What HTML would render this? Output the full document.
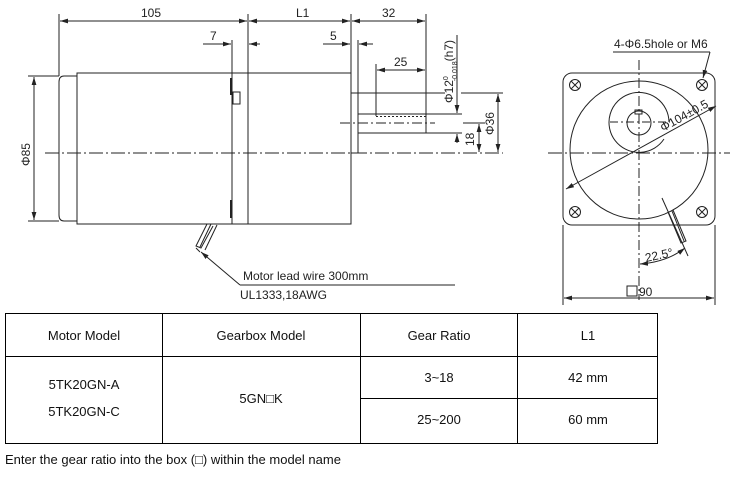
<!DOCTYPE html>
<html><head><meta charset="utf-8"><style>
body{margin:0;background:#fff;width:732px;height:483px;overflow:hidden;font-family:"Liberation Sans",Arial,sans-serif}
svg{position:absolute;left:0;top:0}
</style></head><body>
<svg width="732" height="483" viewBox="0 0 732 483" xmlns="http://www.w3.org/2000/svg">
<defs>
<marker id="a" viewBox="0 0 10 6" refX="10" refY="3" markerWidth="8" markerHeight="5" orient="auto-start-reverse"><path d="M0,0L10,3L0,6z" fill="#222"/></marker>
</defs>
<g stroke="#222" stroke-width="1" fill="none">
<!-- extension lines -->
<line x1="59" y1="14" x2="59" y2="76"/>
<line x1="248" y1="14" x2="248" y2="73"/>
<line x1="351" y1="14" x2="351" y2="73"/>
<line x1="426" y1="14" x2="426" y2="114"/>
<line x1="232" y1="40" x2="232" y2="73"/>
<line x1="358" y1="40" x2="358" y2="93"/>
<line x1="376" y1="64" x2="376" y2="116"/>
<!-- top dims -->
<line x1="60" y1="21" x2="247" y2="21" marker-start="url(#a)" marker-end="url(#a)"/>
<line x1="249" y1="21" x2="350" y2="21" marker-start="url(#a)" marker-end="url(#a)"/>
<line x1="352" y1="21" x2="425" y2="21" marker-start="url(#a)" marker-end="url(#a)"/>
<line x1="203" y1="44" x2="231" y2="44" marker-end="url(#a)"/>
<line x1="260" y1="44" x2="249" y2="44" marker-end="url(#a)"/>
<line x1="323" y1="44" x2="350" y2="44" marker-end="url(#a)"/>
<line x1="373" y1="44" x2="359" y2="44" marker-end="url(#a)"/>
<line x1="377" y1="70" x2="425" y2="70" marker-start="url(#a)" marker-end="url(#a)"/>
<!-- motor body -->
<rect x="77" y="73" width="274" height="151"/>
<path d="M77,76 H64 Q59,76 59,82 V215 Q59,221 64,221 H77"/>
<line x1="232" y1="73" x2="232" y2="224"/>
<line x1="248" y1="73" x2="248" y2="224"/>
<line x1="231" y1="78" x2="231" y2="95" stroke-width="2"/>
<line x1="231" y1="200" x2="231" y2="218" stroke-width="2"/>
<rect x="233" y="92" width="7" height="12"/>
<rect x="351" y="93" width="7" height="60"/>
<rect x="358" y="114" width="68" height="19"/>
<line x1="376" y1="116.5" x2="426" y2="116.5" stroke-dasharray="2,2"/>
<!-- centerlines -->
<line x1="45" y1="153" x2="503" y2="153" stroke-dasharray="14,3,2,3"/>
<line x1="340" y1="123" x2="435" y2="123" stroke-dasharray="10,3,2,3"/>
<!-- right side dims -->
<line x1="358" y1="93" x2="445" y2="93"/>
<line x1="461" y1="93" x2="503" y2="93"/>
<line x1="426" y1="114" x2="462" y2="114"/>
<line x1="426" y1="133" x2="462" y2="133"/>
<line x1="463" y1="123" x2="485" y2="123"/>
<line x1="457" y1="35" x2="457" y2="113" marker-end="url(#a)"/>
<line x1="457" y1="143" x2="457" y2="134" marker-end="url(#a)"/>
<line x1="479" y1="124" x2="479" y2="152" marker-start="url(#a)" marker-end="url(#a)"/>
<line x1="498" y1="94" x2="498" y2="152" marker-start="url(#a)" marker-end="url(#a)"/>
<!-- phi 85 -->
<line x1="28" y1="76" x2="59" y2="76"/>
<line x1="28" y1="221" x2="59" y2="221"/>
<line x1="34" y1="77" x2="34" y2="220" marker-start="url(#a)" marker-end="url(#a)"/>
<!-- wire -->
<path d="M207,224 L196,246 L201,248 L213,226"/>
<path d="M211,224 L200,247 M217,225 L205,250"/>
<line x1="196" y1="248" x2="200" y2="252"/>
<line x1="240" y1="285" x2="201" y2="252" marker-end="url(#a)"/>
<line x1="240" y1="285" x2="455" y2="285"/>
<!-- right view -->
<rect x="563" y="73" width="152" height="152" rx="9"/>
<circle cx="639" cy="150" r="69"/>
<path d="M669,122 A30,30 0 1 0 664,139"/>
<circle cx="639" cy="123" r="12"/>
<rect x="635" y="110" width="7" height="4"/>
<line x1="639" y1="60" x2="639" y2="300" stroke-dasharray="10,3,2,3"/>
<line x1="548" y1="153" x2="730" y2="153" stroke-dasharray="14,3,2,3"/>
<line x1="610" y1="122" x2="670" y2="122" stroke-dasharray="8,3,2,3"/>
<g>
<circle cx="575" cy="85" r="5.5"/><path d="M571,81l8,8M579,81l-8,8"/>
<circle cx="702" cy="85" r="5.5"/><path d="M698,81l8,8M706,81l-8,8"/>
<circle cx="575" cy="212" r="5.5"/><path d="M571,208l8,8M579,208l-8,8"/>
<circle cx="702" cy="212" r="5.5"/><path d="M698,208l8,8M706,208l-8,8"/>
</g>
<line x1="566" y1="189" x2="716" y2="106" marker-start="url(#a)" marker-end="url(#a)"/>
<line x1="613" y1="52" x2="710" y2="52"/>
<line x1="710" y1="52" x2="703" y2="78" marker-end="url(#a)"/>
<line x1="662" y1="198" x2="688" y2="256"/>
<path d="M668,212 L681,243 L686,241 L673,210 M672,211 L684,241"/>
<path d="M640,264 Q667,262 685,248" marker-start="url(#a)" marker-end="url(#a)"/>
<line x1="563" y1="225" x2="563" y2="305"/>
<line x1="715" y1="225" x2="715" y2="305"/>
<line x1="564" y1="298" x2="714" y2="298" marker-start="url(#a)" marker-end="url(#a)"/>
<rect x="627" y="286" width="10" height="10"/>
</g>
<g font-size="12" fill="#222" font-family="Liberation Sans, Arial, sans-serif">
<text x="141" y="17">105</text>
<text x="296" y="17">L1</text>
<text x="382" y="17">32</text>
<text x="210" y="40">7</text>
<text x="330" y="40">5</text>
<text x="394" y="66">25</text>
<text transform="translate(453,103) rotate(-90)">Φ12<tspan font-size="7" dy="-5">0</tspan><tspan font-size="7" dx="-5" dy="9">-0.018</tspan><tspan dy="-4">(h7)</tspan></text>
<text transform="translate(474,146) rotate(-90)">18</text>
<text transform="translate(494,135) rotate(-90)">Φ36</text>
<text transform="translate(30,166) rotate(-90)">Φ85</text>
<text x="243" y="280">Motor lead wire 300mm</text>
<text x="240" y="299">UL1333,18AWG</text>
<text x="614" y="48">4-Φ6.5hole or M6</text>
<text transform="translate(663,132) rotate(-29)">Φ104±0.5</text>
<text x="646" y="262" transform="rotate(-12 646 262)">22.5°</text>
<text x="639" y="296">90</text>
</g>
<g stroke="#000" stroke-width="1" fill="none">
<rect x="5.5" y="313.5" width="652" height="130"/>
<line x1="5" y1="356.5" x2="658" y2="356.5"/>
<line x1="360" y1="398.5" x2="658" y2="398.5"/>
<line x1="162.5" y1="313" x2="162.5" y2="444"/>
<line x1="360.5" y1="313" x2="360.5" y2="444"/>
<line x1="517.5" y1="313" x2="517.5" y2="444"/>
</g>
<g font-size="13" fill="#111" text-anchor="middle" font-family="Liberation Sans, Arial, sans-serif">
<text x="84" y="340">Motor Model</text>
<text x="261" y="340">Gearbox Model</text>
<text x="439" y="340">Gear Ratio</text>
<text x="588" y="340">L1</text>
<text x="84" y="389">5TK20GN-A</text>
<text x="84" y="416">5TK20GN-C</text>
<text x="261" y="403">5GN□K</text>
<text x="439" y="382">3~18</text>
<text x="588" y="382">42 mm</text>
<text x="439" y="424">25~200</text>
<text x="588" y="424">60 mm</text>
<text x="5" y="464" text-anchor="start">Enter the gear ratio into the box (□) within the model name</text>
</g>
</svg>
</body></html>
